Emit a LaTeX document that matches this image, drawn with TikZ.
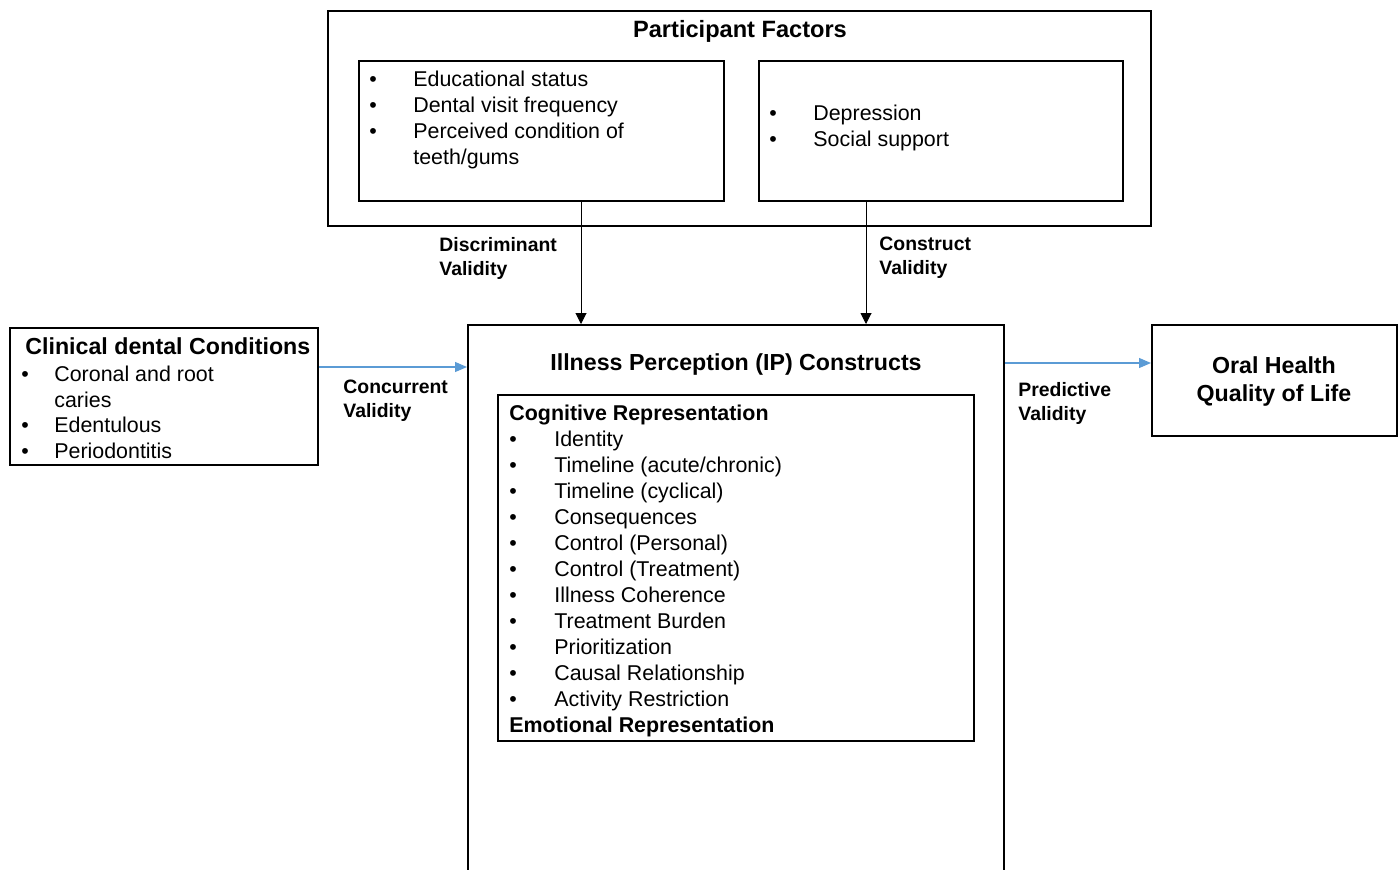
\documentclass[tikz,border=0pt]{standalone}
\usepackage{fontspec}
\setmainfont{Liberation Sans}
\usetikzlibrary{arrows.meta, fit}
\definecolor{arrblue}{RGB}{91,155,213}
\newcommand{\itm}[2][22pt]{\makebox[#1][l]{\textbullet}#2}

\begin{document}
\begin{tikzpicture}[x=0.5pt, y=-0.5pt,
    box/.style={draw, line width=1pt, inner sep=0pt},
    txt/.style={inner sep=0pt, anchor=north west, align=left, font=\fontsize{10.7}{13}\selectfont},
    hdr/.style={inner sep=0pt, anchor=base, font=\bfseries\fontsize{11.6}{14}\selectfont},
    lbl/.style={inner sep=0pt, anchor=north west, align=left, font=\bfseries\fontsize{9.7}{12}\selectfont},
    link/.style={-{Triangle[length=5.5pt, width=5.5pt]}, line width=0.5pt},
    bluelink/.style={-{Triangle[length=6pt, width=5pt]}, line width=0.6pt, arrblue}]
    \clip (0,0) rectangle (1399,869);

    % participant factors
    \node[box, fit={(328,11) (1151,226)}] (pf) {};
    \node[hdr, font=\bfseries\fontsize{11.8}{14}\selectfont] (pfhd) at (740,37) {Participant Factors};
    \node[box, fit={(359,61) (724,201)}] (pfa) {};
    \node[box, fit={(759,61) (1123,201)}] (pfb) {};
    \node[txt] (pfal) at (369,70.5) {\itm{Educational status}\\ \itm{Dental visit frequency}\\
        \itm{Perceived condition of}\\ \hspace*{22pt}teeth/gums};
    \node[txt] (pfbl) at (769,104.5) {\itm{Depression}\\ \itm{Social support}};

    % clinical conditions
    \node[box, fit={(10,328) (318,465)}] (cdc) {};
    \node[hdr, anchor=base west] (cdchd) at (25,354) {Clinical dental Conditions};
    \node[txt, font=\fontsize{10.7}{12.85}\selectfont] (cdcl) at (21,365.5) {\itm[16.5pt]{Coronal and root}\\
        \hspace*{16.5pt}caries\\ \itm[16.5pt]{Edentulous}\\ \itm[16.5pt]{Periodontitis}};

    % illness perception
    \node[box, fit={(468,325) (1004,960)}] (ip) {};
    \node[hdr] (iphd) at (736,370) {Illness Perception (IP) Constructs};
    \node[box, fit={(498,395) (974,741)}] (cog) {};
    \node[txt] (cogl) at (509,404.5) {{\bfseries Cognitive Representation}\\
        \itm[22.5pt]{Identity}\\ \itm[22.5pt]{Timeline (acute/chronic)}\\
        \itm[22.5pt]{Timeline (cyclical)}\\ \itm[22.5pt]{Consequences}\\
        \itm[22.5pt]{Control (Personal)}\\ \itm[22.5pt]{Control (Treatment)}\\
        \itm[22.5pt]{Illness Coherence}\\ \itm[22.5pt]{Treatment Burden}\\
        \itm[22.5pt]{Prioritization}\\ \itm[22.5pt]{Causal Relationship}\\
        \itm[22.5pt]{Activity Restriction}\\ {\bfseries Emotional Representation}};

    % outcome
    \node[box, fit={(1152,325) (1397,436)}] (ohq) {};
    \node[hdr, anchor=north, align=center] (ohql) at (1274,356) {Oral Health\\Quality of Life};

    % validity links
    \coordinate (dv) at (581,0);
    \coordinate (cv) at (866,0);
    \coordinate (cy) at (0,367);
    \coordinate (py) at (0,363);
    \draw[link] (pfa.south -| dv) -- (ip.north -| dv);
    \draw[link] (pfb.south -| cv) -- (ip.north -| cv);
    \draw[bluelink] (cdc.east |- cy) -- (ip.west |- cy);
    \draw[bluelink] (ip.east |- py) -- (ohq.west |- py);

    \node[lbl] (dvl) at (439,237) {Discriminant\\Validity};
    \node[lbl] (cvl) at (879,237) {Construct\\Validity};
    \node[lbl] (ccl) at (343,380) {Concurrent\\Validity};
    \node[lbl] (pvl) at (1018,382) {Predictive\\Validity};
\end{tikzpicture}
\end{document}
